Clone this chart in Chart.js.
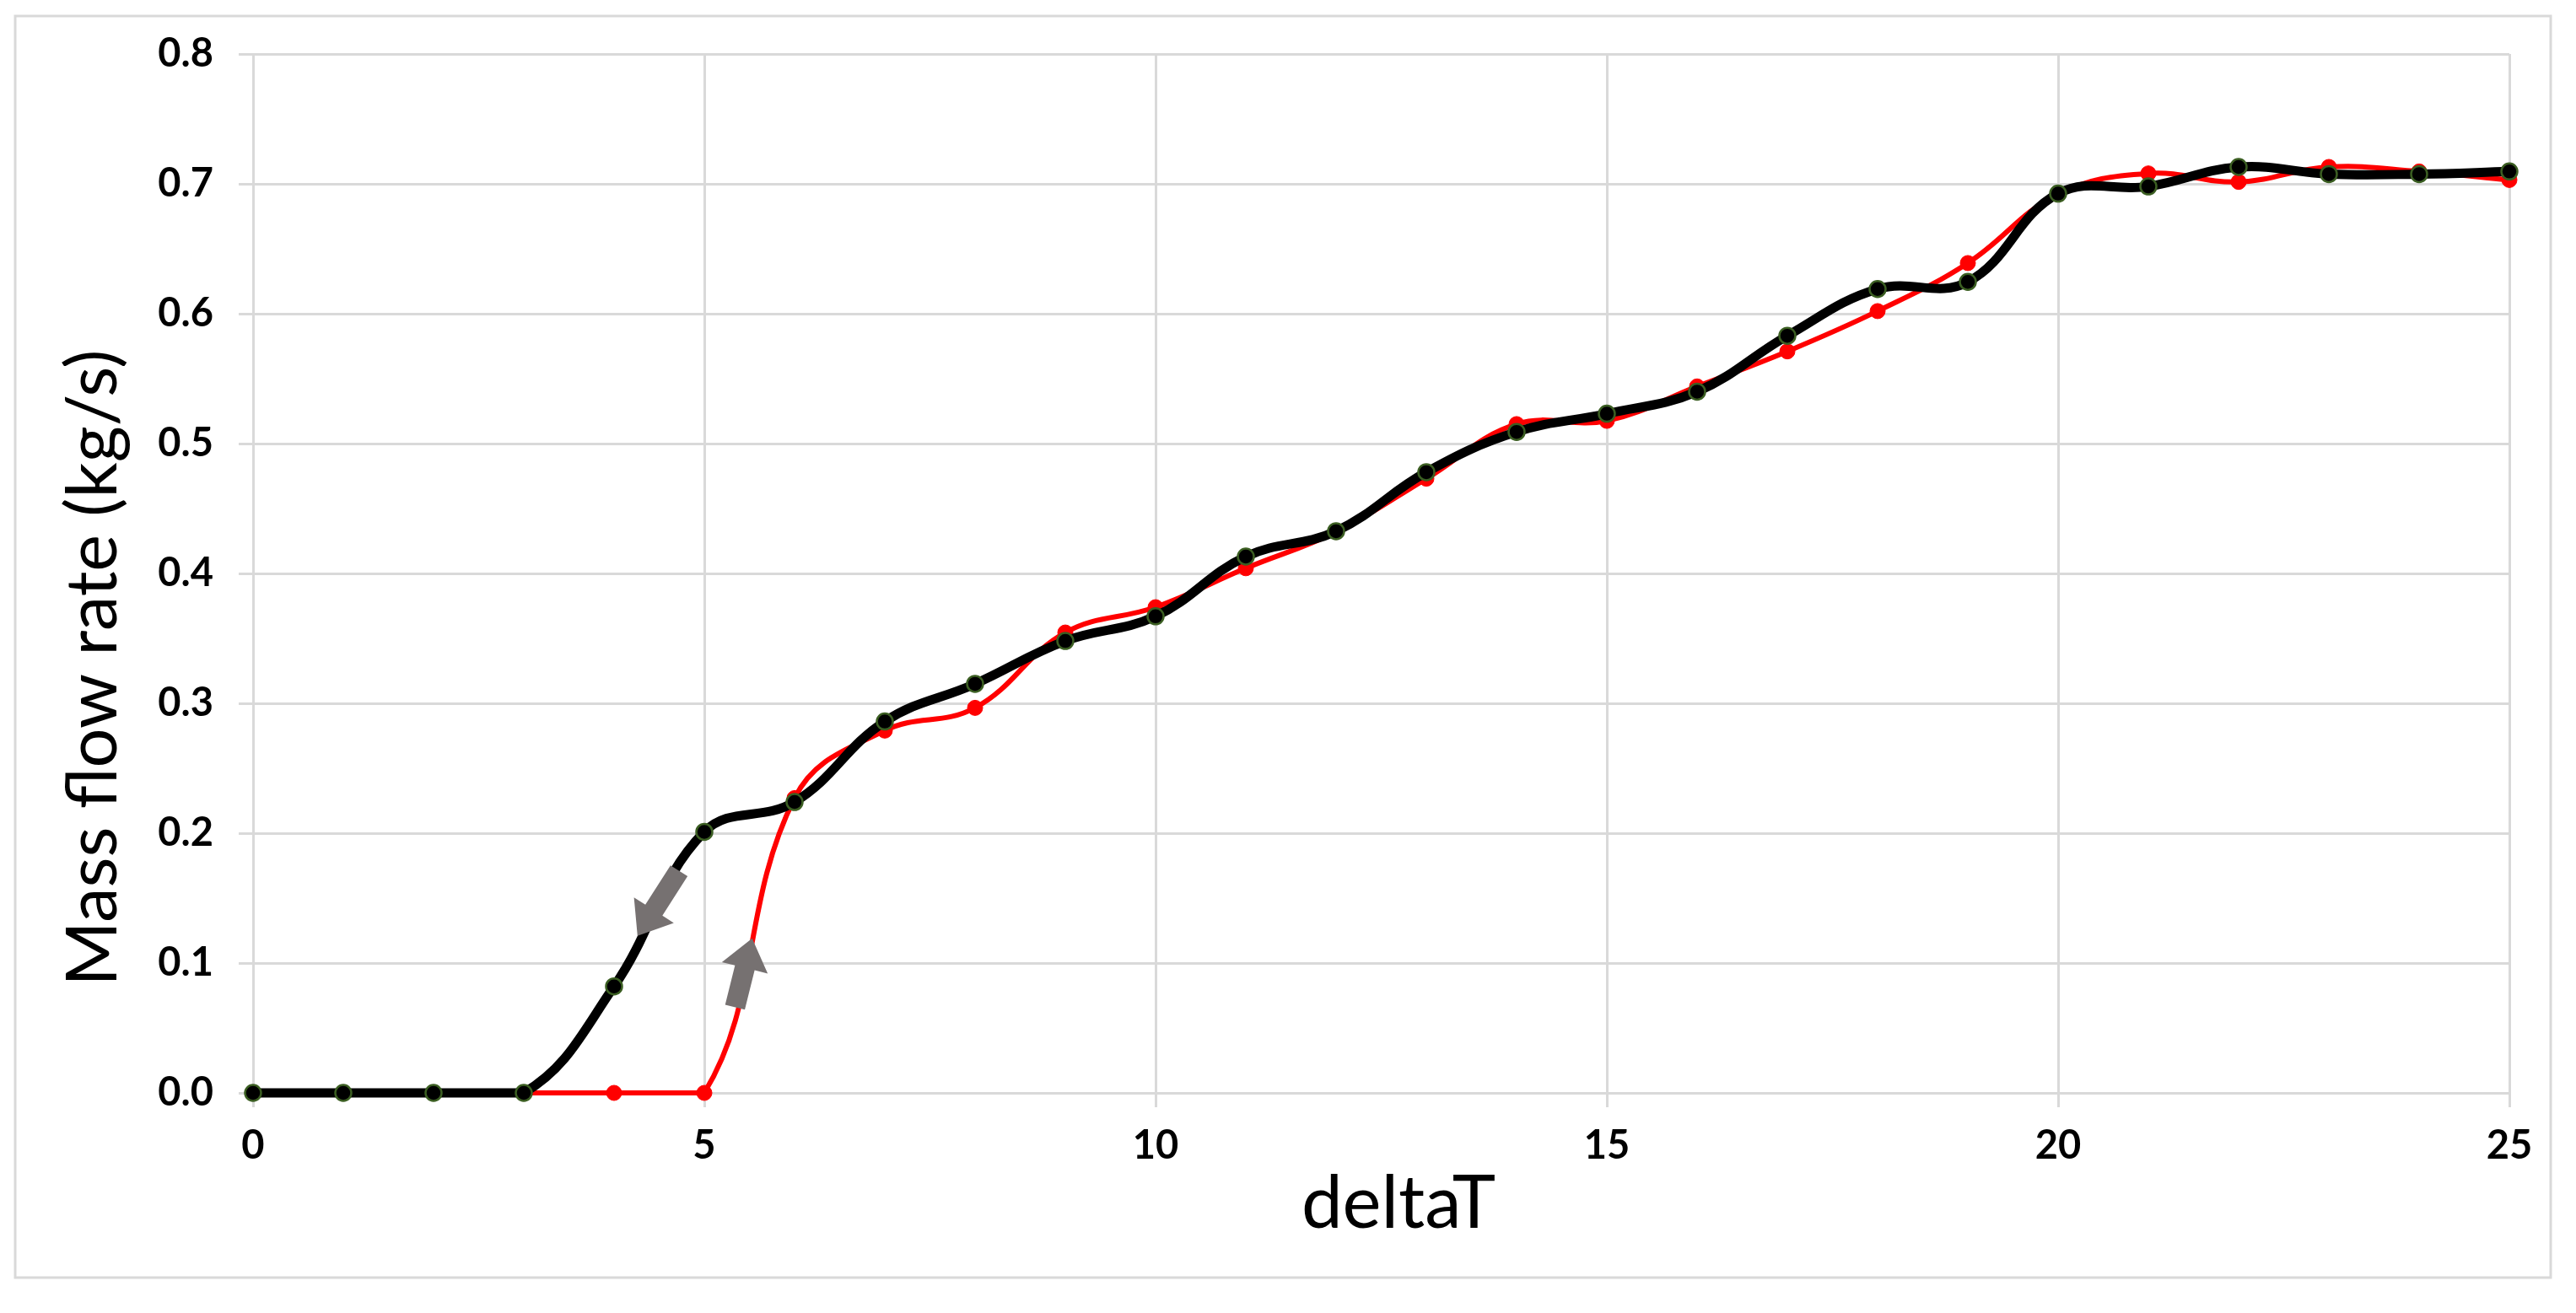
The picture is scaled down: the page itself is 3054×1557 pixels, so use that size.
<!DOCTYPE html>
<html>
<head>
<meta charset="utf-8">
<script src="https://cdn.jsdelivr.net/npm/chart.js@4.4.1/dist/chart.umd.min.js"></script>
<style>
    html, body { margin: 0; padding: 0; background: #fff; }
    #wrap { width: 3054px; height: 1557px; }
</style>
</head>
<body>
<div id="wrap"><canvas id="flowChart" width="3054" height="1557"></canvas></div>
<script>
// deltaT steps and mass flow rate (kg/s)
const deltaT = [0, 1, 2, 3, 4, 5, 6, 7, 8, 9, 10, 11, 12, 13, 14, 15, 16, 17, 18, 19, 20, 21, 22, 23, 24, 25];
const heating = [0, 0, 0, 0, 0, 0, 0.227, 0.279, 0.2965, 0.3545, 0.374, 0.404, 0.432, 0.473, 0.515, 0.5175,
    0.544, 0.571, 0.602, 0.639, 0.692, 0.708, 0.7015, 0.713, 0.7095, 0.703];
const cooling = [0, 0, 0, 0, 0.082, 0.201, 0.224, 0.286, 0.315, 0.348, 0.367, 0.413, 0.4325, 0.478, 0.509, 0.523,
    0.540, 0.583, 0.619, 0.6245, 0.6925, 0.698, 0.713, 0.7075, 0.7075, 0.7095];

// direction arrows (tail -> tip) in data units
const arrowTails = [[4.72, 0.171], [5.34, 0.066]];
const arrowTips = [[4.26, 0.121], [5.53, 0.119]];

const gridGrey = '#d9d9d9';
const tickFont = { family: 'Lato', size: 47, weight: 'bold' };

const toPoints = (ys) => deltaT.map((x, i) => ({ x: x, y: ys[i] }));

const frame = {
    id: 'frame',
    beforeDraw(chart) {
        const { ctx, width, height } = chart;
        ctx.save();
        ctx.fillStyle = '#fff';
        ctx.fillRect(0, 0, width, height);
        ctx.strokeStyle = gridGrey;
        ctx.lineWidth = 3;
        ctx.strokeRect(18, 19, 3006, 1496);
        ctx.restore();
    }
};

const arrows = {
    id: 'arrows',
    afterDatasetsDraw(chart) {
        const { ctx } = chart;
        const xs = chart.scales.x, ys = chart.scales.y;
        arrowTails.forEach((tail, i) => {
            const x0 = xs.getPixelForValue(tail[0]), y0 = ys.getPixelForValue(tail[1]);
            const x1 = xs.getPixelForValue(arrowTips[i][0]), y1 = ys.getPixelForValue(arrowTips[i][1]);
            const len = Math.hypot(x1 - x0, y1 - y0);
            const shaft = 12, head = 28, headLen = 36;
            ctx.save();
            ctx.translate(x0, y0);
            ctx.rotate(Math.atan2(y1 - y0, x1 - x0));
            ctx.beginPath();
            ctx.moveTo(0, -shaft);
            ctx.lineTo(len - headLen, -shaft);
            ctx.lineTo(len - headLen, -head);
            ctx.lineTo(len, 0);
            ctx.lineTo(len - headLen, head);
            ctx.lineTo(len - headLen, shaft);
            ctx.lineTo(0, shaft);
            ctx.closePath();
            ctx.fillStyle = '#767171';
            ctx.fill();
            ctx.restore();
        });
    }
};

// axis titles drawn by hand: in the original they are not centred on the plot area
const axisTitles = {
    id: 'axisTitles',
    afterDraw(chart) {
        const { ctx } = chart;
        ctx.save();
        ctx.fillStyle = '#000';
        ctx.textAlign = 'center';
        ctx.textBaseline = 'middle';

        ctx.font = '87px Lato';
        ctx.fillText('deltaT', 1658, 1428);

        ctx.translate(111, 792);
        ctx.rotate(-Math.PI / 2);
        ctx.font = '83px Lato';
        ctx.fillText('Mass flow rate (kg/s)', 0, 0);
        ctx.restore();
    }
};

new Chart(document.getElementById('flowChart'), {
    type: 'line',
    data: {
        datasets: [{
            label: 'Cooling',
            data: toPoints(cooling),
            borderColor: '#000',
            borderWidth: 11,
            pointRadius: 9.5,
            pointBackgroundColor: '#000',
            pointBorderColor: '#3b5e22',
            pointBorderWidth: 2.5,
            tension: 0.4,
            clip: false,
            order: 0
        }, {
            label: 'Heating',
            data: toPoints(heating),
            borderColor: '#ff0000',
            borderWidth: 6,
            pointRadius: 9,
            pointBackgroundColor: '#ff0000',
            pointBorderColor: '#ff0000',
            pointBorderWidth: 1,
            tension: 0.4,
            clip: false,
            order: 1
        }]
    },
    options: {
        responsive: false,
        animation: false,
        devicePixelRatio: 1,
        layout: { padding: { left: 0, top: 64, right: 79, bottom: 0 } },
        scales: {
            x: {
                type: 'linear',
                min: 0,
                max: 25,
                ticks: { stepSize: 5, color: '#000', font: tickFont, padding: 18, maxRotation: 0 },
                grid: { color: gridGrey, lineWidth: 3, tickLength: 17, tickColor: gridGrey },
                border: { color: gridGrey, width: 3 },
                afterFit: (scale) => { scale.height = 261; }
            },
            y: {
                min: 0,
                max: 0.8,
                ticks: {
                    stepSize: 0.1,
                    color: '#000',
                    font: tickFont,
                    padding: 30,
                    callback: (v) => v.toFixed(1)
                },
                grid: { color: gridGrey, lineWidth: 3, tickLength: 17, tickColor: gridGrey },
                border: { color: gridGrey, width: 3 },
                afterFit: (scale) => { scale.width = 300; }
            }
        },
        plugins: {
            legend: { display: false },
            tooltip: { enabled: false }
        }
    },
    plugins: [frame, arrows, axisTitles]
});
</script>
</body>
</html>
